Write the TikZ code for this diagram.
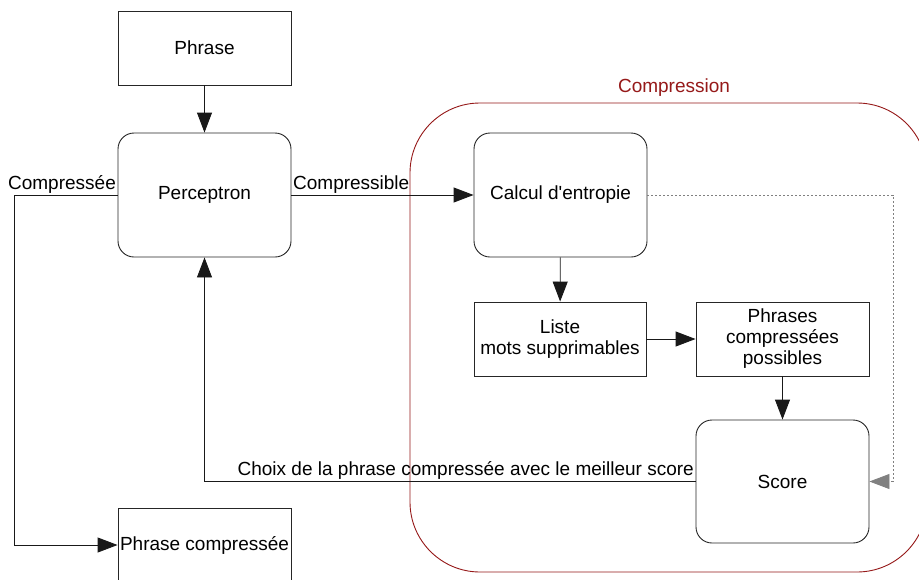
\documentclass[tikz,border=0pt]{standalone}
\usepackage{fontspec}
\setmainfont{Liberation Sans}
\usetikzlibrary{arrows.meta}
\definecolor{compred}{RGB}{150,25,25}
\definecolor{dotgrey}{RGB}{128,128,128}
\tikzset{
  every node/.style={font=\fontsize{19}{21}\selectfont, text=black},
  plainbox/.style={draw=black!85, line width=0.9pt, inner sep=0pt, align=center, minimum width=173pt, minimum height=74pt},
  roundbox/.style={plainbox, rounded corners=16pt, minimum height=124pt},
  arr/.style={draw=black!90, line width=0.9pt, -{Triangle[length=20pt,width=15pt]}},
  dotarr/.style={draw=dotgrey, line width=0.8pt, dash pattern=on 2pt off 2pt, -{Triangle[length=20pt,width=15pt,fill=dotgrey]}},
  lbl/.style={inner sep=1.5pt},
}
\begin{document}
\begin{tikzpicture}[x=1pt,y=-1pt]
\useasboundingbox (0,0) rectangle (919,579);
\clip (0,0) rectangle (919,579);
\fill[white] (0,0) rectangle (919,579);
% container
\draw[compred, line width=0.9pt, rounded corners=70pt] (410,103) rectangle (927,572);
\node[text=compred] (complbl) at (674,88) {Compression};
% nodes
\node[plainbox] (phrase) at (204.5,48) {Phrase};
\node[roundbox] (perc) at (204.5,195) {Perceptron};
\node[roundbox] (calcul) at (560.5,195) {Calcul d\textquotesingle entropie};
\node[plainbox, minimum width=172pt] (liste) at (560,339) {Liste\\ mots supprimables};
\node[plainbox] (phrases) at (782.5,339) {Phrases\\ compressées\\ possibles};
\node[roundbox, minimum height=123pt] (score) at (782.5,481.5) {Score};
\node[plainbox] (pcomp) at (204.5,545) {Phrase compressée};
% coordinates
\coordinate (cl) at (14,195);
\coordinate (dc) at (893,195);
% connectors
\draw[arr] (phrase) -- (perc);
\draw[arr] (perc) -- (calcul);
\node[lbl, anchor=south west] (compressible) at (perc.east) {Compressible};
\draw[arr] (perc.west) -- (cl) |- (pcomp.west);
\node[lbl, anchor=south east] (compressee) at (perc.west) {Compressée};
\draw[arr] (calcul) -- (liste);
\draw[arr] (liste) -- (phrases);
\draw[arr] (phrases) -- (score);
\draw[arr] (score.west) -| (perc.south);
\node[lbl, anchor=south east] (choix) at (score.west) {Choix de la phrase compressée avec le meilleur score};
\draw[dotarr] (calcul.east) -- (dc) |- (score.east);
\end{tikzpicture}
\end{document}
